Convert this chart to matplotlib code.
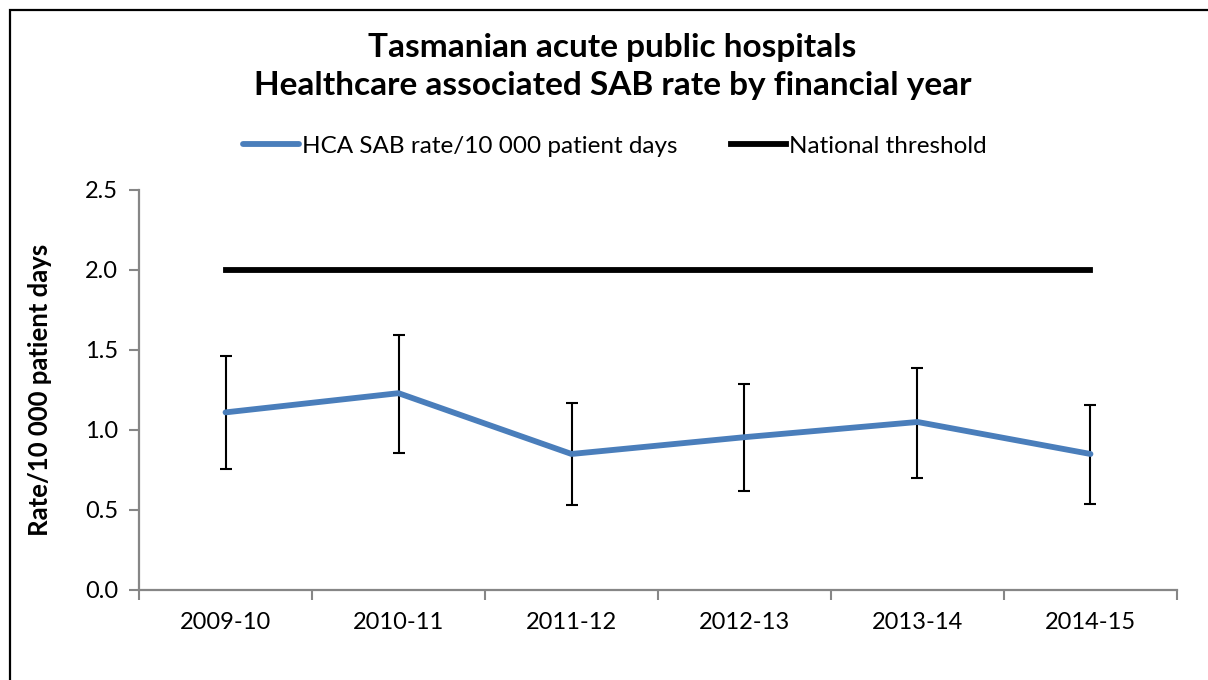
import matplotlib.pyplot as plt
from matplotlib.patches import Rectangle

# data
years = ["2009-10", "2010-11", "2011-12", "2012-13", "2013-14", "2014-15"]
rate = [1.11, 1.23, 0.85, 0.955, 1.05, 0.85]
upper = [1.46, 1.595, 1.17, 1.29, 1.39, 1.155]
lower = [0.755, 0.855, 0.53, 0.62, 0.70, 0.54]
threshold = [2.0, 2.0, 2.0, 2.0, 2.0, 2.0]

plt.rcParams['font.family'] = ['Lato', 'DejaVu Sans']

fig = plt.figure(figsize=(12.08, 6.8), dpi=100)
ax = fig.add_axes([0.1151, 0.1324, 0.9743 - 0.1151, 0.7206 - 0.1324])

x = list(range(len(years)))
err_lo = [r - l for r, l in zip(rate, lower)]
err_hi = [u - r for r, u in zip(rate, upper)]

ax.plot(x, threshold, color='black', lw=4.2, label='National threshold', zorder=3)
ax.errorbar(x, rate, yerr=[err_lo, err_hi], fmt='none', ecolor='black',
            elinewidth=1.5, capsize=4.5, capthick=1.5, zorder=2)
ax.plot(x, rate, color='#4A7EBB', lw=4.2, label='HCA SAB rate/10 000 patient days',
        solid_capstyle='round', zorder=4)

ax.set_xlim(-0.5, len(years) - 0.5)
ax.set_ylim(0, 2.5)
ax.set_yticks([0, 0.5, 1.0, 1.5, 2.0, 2.5])
ax.set_yticklabels(["0.0", "0.5", "1.0", "1.5", "2.0", "2.5"], fontsize=17)

# category boundaries get the tick marks, centres get the labels
ax.set_xticks([i - 0.5 for i in range(len(years) + 1)])
ax.set_xticklabels([])
ax.set_xticks(x, minor=True)
ax.set_xticklabels(years, minor=True, fontsize=17)
ax.tick_params(axis='x', which='minor', length=0, pad=16)
ax.tick_params(axis='x', which='major', length=7, width=1.5, color='#868686', direction='out')
ax.tick_params(axis='y', length=7, width=1.5, color='#868686', direction='out', pad=8)

for s in ['top', 'right']:
    ax.spines[s].set_visible(False)
for s in ['left', 'bottom']:
    ax.spines[s].set_color('#868686')
    ax.spines[s].set_linewidth(1.6)

ax.set_ylabel("Rate/10 000 patient days", fontsize=18.5, fontweight='bold', labelpad=24)

fig.text(0.507, 1 - 48 / 680, "Tasmanian acute public hospitals", ha='center', va='center',
         fontsize=24, fontweight='bold')
fig.text(0.507, 1 - 86 / 680, "Healthcare associated SAB rate by financial year", ha='center',
         va='center', fontsize=24, fontweight='bold')

h, l = ax.get_legend_handles_labels()
fig.legend([h[1], h[0]], [l[1], l[0]], loc='center', bbox_to_anchor=(0.509, 1 - 146 / 680),
           ncol=2, frameon=False, fontsize=17.5, handlelength=2.3, handletextpad=0.1,
           columnspacing=2.2)

# outer frame (cut off at right and bottom like the original)
fig.patches.append(Rectangle((10 / 1208, -0.1), 1.2, 1.1 - 10 / 680, transform=fig.transFigure,
                             fill=False, edgecolor='black', lw=1.6))

fig.savefig("out.png", dpi=100)
